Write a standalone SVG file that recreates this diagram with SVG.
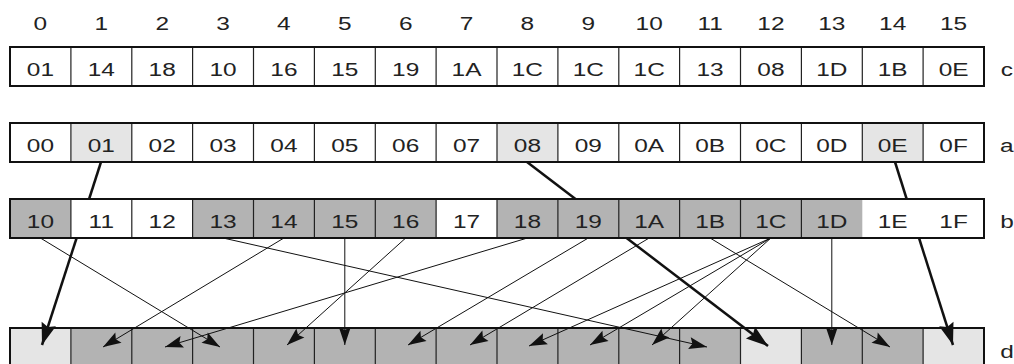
<svg xmlns="http://www.w3.org/2000/svg" width="1014" height="364" viewBox="0 0 1014 364">
<style>
.t{font-family:"Liberation Sans",Arial,sans-serif;font-size:18.5px;fill:#222;text-anchor:middle;transform-box:fill-box;transform-origin:center;transform:scaleX(1.32)}
.w{fill:#fff}
.g{fill:#b3b3b3}
.l{fill:#e5e5e5}
.box{fill:none;stroke:#111;stroke-width:2}
.div{stroke:#222;stroke-width:1.2}
.thin{stroke:#111;stroke-width:1;fill:none;marker-end:url(#ah)}
.thick{stroke:#111;stroke-width:2.5;fill:none}
.thickA{stroke:#111;stroke-width:2.5;fill:none;marker-end:url(#ahb)}
</style>
<defs>
<marker id="ah" markerUnits="userSpaceOnUse" markerWidth="18" markerHeight="12" refX="18" refY="6" orient="auto" overflow="visible">
<path d="M0,0 L18,6 L0,12 L3,6 Z" fill="#111"/>
</marker>
<marker id="ahb" markerUnits="userSpaceOnUse" markerWidth="22" markerHeight="15" refX="22" refY="7.5" orient="auto" overflow="visible">
<path d="M0,0 L22,7.5 L0,15 L3,7.5 Z" fill="#111"/>
</marker>
</defs>
<rect width="1014" height="364" fill="#fff"/>

<g id="indices">
<text class="t" x="40.4" y="30">0</text>
<text class="t" x="101.3" y="30">1</text>
<text class="t" x="162.2" y="30">2</text>
<text class="t" x="223.1" y="30">3</text>
<text class="t" x="283.9" y="30">4</text>
<text class="t" x="344.8" y="30">5</text>
<text class="t" x="405.7" y="30">6</text>
<text class="t" x="466.6" y="30">7</text>
<text class="t" x="527.4" y="30">8</text>
<text class="t" x="588.3" y="30">9</text>
<text class="t" x="649.2" y="30">10</text>
<text class="t" x="710.1" y="30">11</text>
<text class="t" x="770.9" y="30">12</text>
<text class="t" x="831.8" y="30">13</text>
<text class="t" x="892.7" y="30">14</text>
<text class="t" x="953.6" y="30">15</text>
</g>

<g id="row-c">
<rect class="w" x="10" y="47" width="974" height="39"/>
<path class="div" d="M70.9,47V86M131.8,47V86M192.6,47V86M253.5,47V86M314.4,47V86M375.3,47V86M436.1,47V86M497,47V86M557.9,47V86M618.8,47V86M679.6,47V86M740.5,47V86M801.4,47V86M862.3,47V86M923.1,47V86"/>
<rect class="box" x="10" y="47" width="974" height="39"/>
<text class="t" x="40.4" y="76">01</text>
<text class="t" x="101.3" y="76">14</text>
<text class="t" x="162.2" y="76">18</text>
<text class="t" x="223.1" y="76">10</text>
<text class="t" x="283.9" y="76">16</text>
<text class="t" x="344.8" y="76">15</text>
<text class="t" x="405.7" y="76">19</text>
<text class="t" x="466.6" y="76">1A</text>
<text class="t" x="527.4" y="76">1C</text>
<text class="t" x="588.3" y="76">1C</text>
<text class="t" x="649.2" y="76">1C</text>
<text class="t" x="710.1" y="76">13</text>
<text class="t" x="770.9" y="76">08</text>
<text class="t" x="831.8" y="76">1D</text>
<text class="t" x="892.7" y="76">1B</text>
<text class="t" x="953.6" y="76">0E</text>
<text class="t" x="1007" y="76">c</text>
</g>

<g id="row-a">
<rect class="w" x="10" y="123" width="974" height="39"/>
<rect class="l" x="70.9" y="123" width="60.9" height="39"/>
<rect class="l" x="497" y="123" width="60.9" height="39"/>
<rect class="l" x="862.3" y="123" width="60.9" height="39"/>
<path class="div" d="M70.9,123V162M131.8,123V162M192.6,123V162M253.5,123V162M314.4,123V162M375.3,123V162M436.1,123V162M497,123V162M557.9,123V162M618.8,123V162M679.6,123V162M740.5,123V162M801.4,123V162M862.3,123V162M923.1,123V162"/>
<rect class="box" x="10" y="123" width="974" height="39"/>
<text class="t" x="40.4" y="152">00</text>
<text class="t" x="101.3" y="152">01</text>
<text class="t" x="162.2" y="152">02</text>
<text class="t" x="223.1" y="152">03</text>
<text class="t" x="283.9" y="152">04</text>
<text class="t" x="344.8" y="152">05</text>
<text class="t" x="405.7" y="152">06</text>
<text class="t" x="466.6" y="152">07</text>
<text class="t" x="527.4" y="152">08</text>
<text class="t" x="588.3" y="152">09</text>
<text class="t" x="649.2" y="152">0A</text>
<text class="t" x="710.1" y="152">0B</text>
<text class="t" x="770.9" y="152">0C</text>
<text class="t" x="831.8" y="152">0D</text>
<text class="t" x="892.7" y="152">0E</text>
<text class="t" x="953.6" y="152">0F</text>
<text class="t" x="1007" y="152">a</text>
</g>

<g id="row-b">
<rect class="g" x="10" y="199" width="974" height="39"/>
<rect class="w" x="70.9" y="199" width="121.7" height="39"/>
<rect class="w" x="436.1" y="199" width="60.9" height="39"/>
<rect class="w" x="862.3" y="199" width="121.7" height="39"/>
<path class="div" d="M70.9,199V238M131.8,199V238M192.6,199V238M253.5,199V238M314.4,199V238M375.3,199V238M436.1,199V238M497,199V238M557.9,199V238M618.8,199V238M679.6,199V238M740.5,199V238M801.4,199V238"/>
<rect class="box" x="10" y="199" width="974" height="39"/>
<text class="t" x="40.4" y="228">10</text>
<text class="t" x="101.3" y="228">11</text>
<text class="t" x="162.2" y="228">12</text>
<text class="t" x="223.1" y="228">13</text>
<text class="t" x="283.9" y="228">14</text>
<text class="t" x="344.8" y="228">15</text>
<text class="t" x="405.7" y="228">16</text>
<text class="t" x="466.6" y="228">17</text>
<text class="t" x="527.4" y="228">18</text>
<text class="t" x="588.3" y="228">19</text>
<text class="t" x="649.2" y="228">1A</text>
<text class="t" x="710.1" y="228">1B</text>
<text class="t" x="770.9" y="228">1C</text>
<text class="t" x="831.8" y="228">1D</text>
<text class="t" x="892.7" y="228">1E</text>
<text class="t" x="953.6" y="228">1F</text>
<text class="t" x="1007" y="228">b</text>
</g>

<g id="row-d">
<rect class="g" x="10" y="328" width="974" height="39"/>
<rect class="l" x="10" y="328" width="60.9" height="39"/>
<rect class="l" x="740.5" y="328" width="60.9" height="39"/>
<rect class="l" x="923.1" y="328" width="60.9" height="39"/>
<path class="div" d="M70.9,328V367M131.8,328V367M192.6,328V367M253.5,328V367M314.4,328V367M375.3,328V367M436.1,328V367M497,328V367M557.9,328V367M618.8,328V367M679.6,328V367M740.5,328V367M801.4,328V367M862.3,328V367M923.1,328V367"/>
<rect class="box" x="10" y="328" width="974" height="39"/>
<text class="t" x="1007" y="358">d</text>
</g>

<g id="connectors">
<line class="thick" x1="101" y1="162" x2="89.1" y2="199"/>
<line class="thickA" x1="76.6" y1="238" x2="42" y2="345"/>
<line class="thick" x1="527" y1="162" x2="575.5" y2="199"/>
<line class="thickA" x1="626.6" y1="238" x2="768" y2="346"/>
<line class="thick" x1="895" y1="162" x2="906.7" y2="199"/>
<line class="thickA" x1="919" y1="238" x2="953" y2="345"/>
<line class="thin" x1="40.4" y1="238" x2="220" y2="347"/>
<line class="thin" x1="223.1" y1="238" x2="707" y2="347"/>
<line class="thin" x1="283.9" y1="238" x2="103" y2="347"/>
<line class="thin" x1="344.8" y1="238" x2="344.8" y2="345"/>
<line class="thin" x1="405.7" y1="238" x2="287" y2="345"/>
<line class="thin" x1="527.4" y1="238" x2="165" y2="347"/>
<line class="thin" x1="588.3" y1="238" x2="408" y2="345"/>
<line class="thin" x1="649.2" y1="238" x2="470" y2="345"/>
<line class="thin" x1="710.1" y1="238" x2="890" y2="347"/>
<line class="thin" x1="770.9" y1="238" x2="529" y2="346"/>
<line class="thin" x1="770.9" y1="238" x2="590" y2="345"/>
<line class="thin" x1="770.9" y1="238" x2="652" y2="345"/>
<line class="thin" x1="831.8" y1="238" x2="831.8" y2="345"/>
</g>
</svg>
